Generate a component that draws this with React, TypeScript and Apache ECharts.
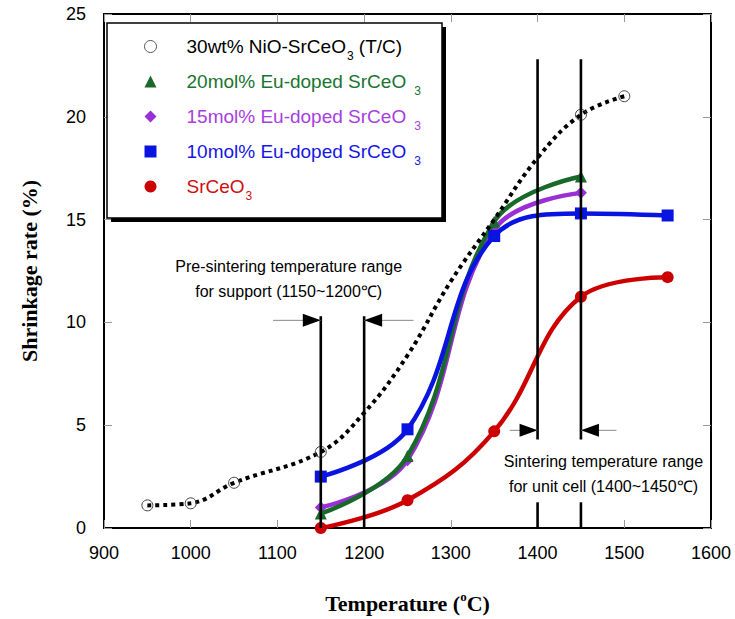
import { useEffect, useRef } from "react";
import * as echarts from "echarts";

// Shrinkage of the support (NiO-SrCeO3, T/C) and of the electrolyte powders vs. temperature
const niTemps = [950, 1000, 1050, 1150, 1200, 1250, 1300, 1350, 1400, 1450, 1500];
const niShrink = [1.1, 1.2, 2.2, 3.7, 5.6, 8.4, 12.0, 15.0, 18.0, 20.1, 21.0];
const niMeasured = [950, 1000, 1050, 1150, 1450, 1500];

const euTemps = [1150, 1250, 1350, 1450];
const eu20Shrink = [0.7, 3.5, 14.9, 17.1];
const eu15Shrink = [1.0, 3.3, 14.5, 16.3];

const eu10Temps = [1150, 1250, 1350, 1450, 1550];
const eu10Shrink = [2.5, 4.8, 14.2, 15.3, 15.2];

const pureTemps = [1150, 1250, 1350, 1450, 1550];
const pureShrink = [0.0, 1.35, 4.7, 11.25, 12.2];

const seriesNames = [
  "30wt% NiO-SrCeO3 (T/C)",
  "20mol% Eu-doped SrCeO3",
  "15mol% Eu-doped SrCeO3",
  "10mol% Eu-doped SrCeO3",
  "SrCeO3",
];
const lineColors = ["#000000", "#18692a", "#9a2fd6", "#0a14e0", "#cc0000"];
const textColors = ["#000000", "#1a7430", "#a63ee0", "#1616e6", "#cc1010"];
const legendIcons = ["circle", "triangle", "diamond", "rect", "circle"];

// axis ranges and tick steps
const tempMin = 900;
const tempMax = 1600;
const tempStep = 100;
const shrinkMin = 0;
const shrinkMax = 25;
const shrinkStep = 5;

// temperature windows: [temperature, from %, to %]
const rangeSegments = [
  [1150, 0, 10.3],
  [1200, 0, 10.3],
  [1400, 4.3, 22.8],
  [1450, 4.3, 22.8],
  [1400, 0, 1.25],
  [1450, 0, 1.25],
];
// arrow heads: [tip temperature, level %, tail temperature]
const rangeArrows = [
  [1150, 10.1, 1095],
  [1200, 10.1, 1257],
  [1400, 4.75, 1368],
  [1450, 4.75, 1491],
];
// notes: [centre temperature, centre level %]
const notePositions = [
  [1113, 12.1],
  [1476, 2.65],
];
const noteTexts = [
  "Pre-sintering temperature range\nfor support (1150~1200\u2103)",
  "Sintering temperature range\nfor unit cell (1400~1450\u2103)",
];

const sans = "Liberation Sans";
const serif = "Liberation Serif";

const pairs = (xs: number[], ys: number[]) => xs.map((x, i) => [x, ys[i]]);

function legendRich() {
  const rich: Record<string, any> = { g: { width: 25 } };
  textColors.forEach((c, i) => {
    rich["m" + i] = { fontSize: 19, lineHeight: 30, fontFamily: sans, color: c };
    rich["s" + i] = {
      fontSize: 12,
      lineHeight: 14,
      fontFamily: sans,
      color: c,
      verticalAlign: "bottom",
      padding: [0, i === 0 || i === 4 ? 0 : 7, 0, i === 0 || i === 4 ? 1 : 8],
    };
  });
  return rich;
}

function legendLabel(name: string) {
  const i = seriesNames.indexOf(name);
  const at = name.indexOf("SrCeO3");
  const head = name.slice(0, at + 5);
  const tail = name.slice(at + 6);
  let out = `{g| }{m${i}|${head}}{s${i}|3}`;
  if (tail) out += `{m${i}|${tail}}`;
  return out;
}

function buildOption() {
  const niData = niTemps.map((t, i) => {
    const measured = niMeasured.includes(t);
    return {
      value: [t, niShrink[i]],
      symbol: measured ? "circle" : "none",
    };
  });

  const colored = (
    idx: number,
    symbol: string,
    data: number[][],
    z: number
  ) => ({
    name: seriesNames[idx],
    type: "line",
    data,
    smooth: 0.4,
    symbol,
    symbolSize: 12,
    z,
    lineStyle: { color: lineColors[idx], width: 4.5 },
    itemStyle: { color: lineColors[idx] },
    emphasis: { disabled: true },
  });

  const axisCommon = {
    axisLine: { show: true, onZero: false, lineStyle: { color: "#000", width: 2 } },
    axisTick: { show: true, inside: true, length: 8, lineStyle: { color: "#9a9a9a", width: 1 } },
    splitLine: { show: false },
  };

  return {
    animation: false,
    backgroundColor: "#ffffff",
    tooltip: { show: false },
    grid: { left: 104, right: 24, top: 14, bottom: 88, containLabel: false },
    xAxis: [
      {
        type: "value",
        position: "bottom",
        min: tempMin,
        max: tempMax,
        interval: tempStep,
        name: "{t|Temperature (}{o|o}{t|C)}",
        nameLocation: "middle",
        nameGap: 62,
        nameTextStyle: {
          rich: {
            t: { fontSize: 22, fontWeight: "bold", fontFamily: serif, color: "#000", lineHeight: 26 },
            o: { fontSize: 13, fontWeight: "bold", fontFamily: serif, color: "#000", lineHeight: 14, verticalAlign: "top" },
          },
        },
        axisLabel: {
          fontSize: 18,
          color: "#000",
          fontFamily: sans,
          margin: 16,
          formatter: (v: number) => String(v),
        },
        ...axisCommon,
      },
      {
        type: "value",
        position: "top",
        min: tempMin,
        max: tempMax,
        interval: tempStep,
        axisLabel: { show: false },
        ...axisCommon,
      },
    ],
    yAxis: [
      {
        type: "value",
        position: "left",
        min: shrinkMin,
        max: shrinkMax,
        interval: shrinkStep,
        name: "Shrinkage rate (%)",
        nameLocation: "middle",
        nameGap: 64,
        nameTextStyle: { fontSize: 22, fontWeight: "bold", fontFamily: serif, color: "#000" },
        axisLabel: {
          fontSize: 18,
          color: "#000",
          fontFamily: sans,
          margin: 18,
          formatter: (v: number) => String(v),
        },
        ...axisCommon,
      },
      {
        type: "value",
        position: "right",
        min: shrinkMin,
        max: shrinkMax,
        interval: shrinkStep,
        axisLabel: { show: false },
        ...axisCommon,
      },
    ],
    legend: {
      orient: "vertical",
      left: 144,
      top: 37,
      padding: 0,
      itemGap: 10.5,
      itemWidth: 12,
      itemHeight: 12,
      z: 5,
      selectedMode: false,
      formatter: legendLabel,
      textStyle: { rich: legendRich() },
      data: seriesNames.map((name, i) => ({
        name,
        icon: legendIcons[i],
        itemStyle:
          i === 0
            ? { color: "#ffffff", borderColor: "#555", borderWidth: 1 }
            : { color: lineColors[i], borderWidth: 0 },
      })),
    },
    graphic: [
      {
        type: "rect",
        z: 3,
        shape: { x: 111, y: 27, width: 335, height: 195 },
        style: { fill: "#000" },
      },
      {
        type: "rect",
        z: 3,
        shape: { x: 107, y: 23, width: 335, height: 195 },
        style: { fill: "#fff", stroke: "#000", lineWidth: 1.5 },
      },
    ],
    series: [
      colored(4, "circle", pairs(pureTemps, pureShrink), 2),
      colored(2, "diamond", pairs(euTemps, eu15Shrink), 3),
      colored(1, "triangle", pairs(euTemps, eu20Shrink), 4),
      colored(3, "rect", pairs(eu10Temps, eu10Shrink), 5),
      {
        name: seriesNames[0],
        type: "line",
        data: niData,
        smooth: 0.4,
        symbolSize: 11,
        z: 6,
        lineStyle: { color: "#000", width: 4, type: [4, 4], cap: "butt" },
        itemStyle: { color: "rgba(255,255,255,0)", borderColor: "#444", borderWidth: 1 },
        emphasis: { disabled: true },
      },
      {
        type: "custom",
        name: "ranges",
        z: 7,
        silent: true,
        data: rangeSegments,
        renderItem: (_p: any, api: any) => {
          const a = api.coord([api.value(0), api.value(1)]);
          const b = api.coord([api.value(0), api.value(2)]);
          return {
            type: "line",
            shape: { x1: a[0], y1: a[1], x2: b[0], y2: b[1] },
            style: { stroke: "#000", lineWidth: 2.6 },
          };
        },
      },
      {
        type: "custom",
        name: "arrows",
        z: 7,
        silent: true,
        data: rangeArrows,
        renderItem: (_p: any, api: any) => {
          const tip = api.coord([api.value(0), api.value(1)]);
          const tail = api.coord([api.value(2), api.value(1)]);
          const dir = tip[0] > tail[0] ? 1 : -1;
          return {
            type: "group",
            children: [
              {
                type: "line",
                shape: { x1: tail[0], y1: tail[1], x2: tip[0], y2: tip[1] },
                style: { stroke: "#8a8a8a", lineWidth: 1 },
              },
              {
                type: "polygon",
                shape: {
                  points: [
                    [tip[0], tip[1]],
                    [tip[0] - dir * 18, tip[1] - 6.5],
                    [tip[0] - dir * 18, tip[1] + 6.5],
                  ],
                },
                style: { fill: "#000" },
              },
            ],
          };
        },
      },
      {
        type: "custom",
        name: "notes",
        z: 7,
        silent: true,
        data: notePositions,
        renderItem: (p: any, api: any) => {
          const c = api.coord([api.value(0), api.value(1)]);
          return {
            type: "text",
            x: c[0],
            y: c[1],
            style: {
              text: noteTexts[p.dataIndex],
              align: "center",
              verticalAlign: "middle",
              fontSize: 16,
              fontFamily: sans,
              lineHeight: 25,
              fill: "#000",
            },
          };
        },
      },
    ],
  };
}

export default function App() {
  const ref = useRef<HTMLDivElement>(null);
  useEffect(() => {
    if (!ref.current) return;
    const chart = echarts.init(ref.current, null, { renderer: "svg" });
    chart.setOption(buildOption() as any);
    return () => chart.dispose();
  }, []);
  return (
    <div
      ref={ref}
      style={{ position: "absolute", left: 0, top: 0, width: 735, height: 619, background: "#fff" }}
    />
  );
}
